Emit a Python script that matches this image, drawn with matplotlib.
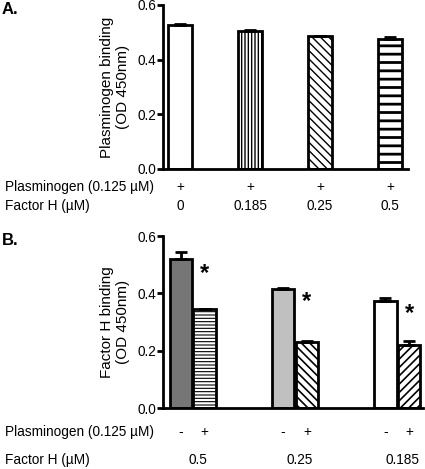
import matplotlib
matplotlib.use("Agg")
import matplotlib.pyplot as plt
import matplotlib.transforms as mtransforms
import numpy as np

plt.rcParams['font.family'] = ['Liberation Sans', 'DejaVu Sans']

# ---- Panel A data ----
a_factor_h = ["0", "0.185", "0.25", "0.5"]
a_plasminogen = ["+", "+", "+", "+"]
a_values = [0.528, 0.505, 0.486, 0.476]
a_errors = [0.002, 0.005, 0.001, 0.008]
a_hatches = [None, '|||||', '\\\\\\\\', '--']
a_colors = ['white', 'white', 'white', 'white']

# ---- Panel B data ----
b_groups = ["0.5", "0.25", "0.185"]
b_plasminogen = ["-", "+", "-", "+", "-", "+"]
b_minus_values = [0.519, 0.414, 0.374]
b_minus_errors = [0.026, 0.004, 0.009]
b_plus_values = [0.345, 0.231, 0.221]
b_plus_errors = [0.002, 0.002, 0.013]
b_minus_colors = ['#767676', '#c0c0c0', 'white']
b_plus_hatches = ['-----', '\\\\\\\\', '////']
b_star_y = [0.468, 0.373, 0.328]

FS = 9.8
YFS = 11
W, H = 425, 469
fig = plt.figure(figsize=(W / 100, H / 100), dpi=100)


def style_axes(ax):
    for s in ['top', 'right']:
        ax.spines[s].set_visible(False)
    for s in ['left', 'bottom']:
        ax.spines[s].set_linewidth(2)
    ax.tick_params(axis='y', width=2, length=4, labelsize=FS, pad=1)
    ax.tick_params(axis='x', length=0, labelbottom=False)
    ax.set_ylim(0, 0.6)
    ax.set_yticks([0, 0.2, 0.4, 0.6])
    ax.set_yticklabels(["0.0", "0.2", "0.4", "0.6"])


def set_hlw(bars, lw):
    for b in bars:
        if hasattr(b, 'set_hatch_linewidth'):
            b.set_hatch_linewidth(lw)


# ---- Panel A ----
axA = fig.add_axes([163 / W, 1 - 169 / H, 245 / W, 164 / H])
style_axes(axA)
xa = np.arange(len(a_values))
for i in range(len(a_values)):
    bars = axA.bar(xa[i], a_values[i], width=0.34, color=a_colors[i],
                   edgecolor='black', linewidth=2, hatch=a_hatches[i],
                   yerr=[[0], [a_errors[i]]], capsize=4,
                   error_kw=dict(elinewidth=2, capthick=2, ecolor='black'),
                   zorder=2)
    set_hlw(bars, 2.0 if a_hatches[i] == '--' else 1.0)
axA.set_xlim(-0.243, 3.257)
axA.set_ylabel("Plasminogen binding\n(OD 450nm)", fontsize=YFS, labelpad=5)

transA = mtransforms.blended_transform_factory(axA.transData, fig.transFigure)
fig.text(5 / W, 1 - 187 / H, "Plasminogen (0.125 µM)", fontsize=FS, va='center', ha='left')
fig.text(5 / W, 1 - 206 / H, "Factor H (µM)", fontsize=FS, va='center', ha='left')
for i in range(len(a_values)):
    axA.text(xa[i], 1 - 187 / H, a_plasminogen[i], transform=transA, fontsize=FS,
             ha='center', va='center')
    axA.text(xa[i], 1 - 206 / H, a_factor_h[i], transform=transA, fontsize=FS,
             ha='center', va='center')
fig.text(2 / W, 1 - 10 / H, "A.", fontsize=12, fontweight='bold', va='center', ha='left')

# ---- Panel B ----
axB = fig.add_axes([163 / W, 1 - 408 / H, 260 / W, 172 / H])
style_axes(axB)
xb = np.arange(len(b_groups))
off = 0.117
bw = 0.215
for i in range(len(b_groups)):
    axB.bar(xb[i] - off, b_minus_values[i], width=bw, color=b_minus_colors[i],
            edgecolor='black', linewidth=2,
            yerr=[[0], [b_minus_errors[i]]], capsize=4,
            error_kw=dict(elinewidth=2, capthick=2, ecolor='black'), zorder=2)
    bars = axB.bar(xb[i] + off, b_plus_values[i], width=bw, color='white',
                   edgecolor='black', linewidth=2, hatch=b_plus_hatches[i],
                   yerr=[[0], [b_plus_errors[i]]], capsize=4,
                   error_kw=dict(elinewidth=2, capthick=2, ecolor='black'), zorder=2)
    set_hlw(bars, 0.8 if b_plus_hatches[i] == '-----' else 1.2)
    axB.text(xb[i] + off, b_star_y[i], "*", fontsize=17, fontweight='bold',
             ha='center', va='center')
axB.set_xlim(-0.288, 2.249)
axB.set_ylabel("Factor H binding\n(OD 450nm)", fontsize=YFS, labelpad=5)

transB = mtransforms.blended_transform_factory(axB.transData, fig.transFigure)
fig.text(5 / W, 1 - 432 / H, "Plasminogen (0.125 µM)", fontsize=FS, va='center', ha='left')
fig.text(5 / W, 1 - 460 / H, "Factor H (µM)", fontsize=FS, va='center', ha='left')
pos = []
for i in range(len(b_groups)):
    pos += [xb[i] - off, xb[i] + off]
for p, lab in zip(pos, b_plasminogen):
    axB.text(p, 1 - 432 / H, lab, transform=transB, fontsize=FS, ha='center', va='center')
for i in range(len(b_groups)):
    axB.text(xb[i] + 0.05, 1 - 460 / H, b_groups[i], transform=transB, fontsize=FS,
             ha='center', va='center')
fig.text(2 / W, 1 - 240 / H, "B.", fontsize=12, fontweight='bold', va='center', ha='left')

fig.savefig("out.png", dpi=100)
